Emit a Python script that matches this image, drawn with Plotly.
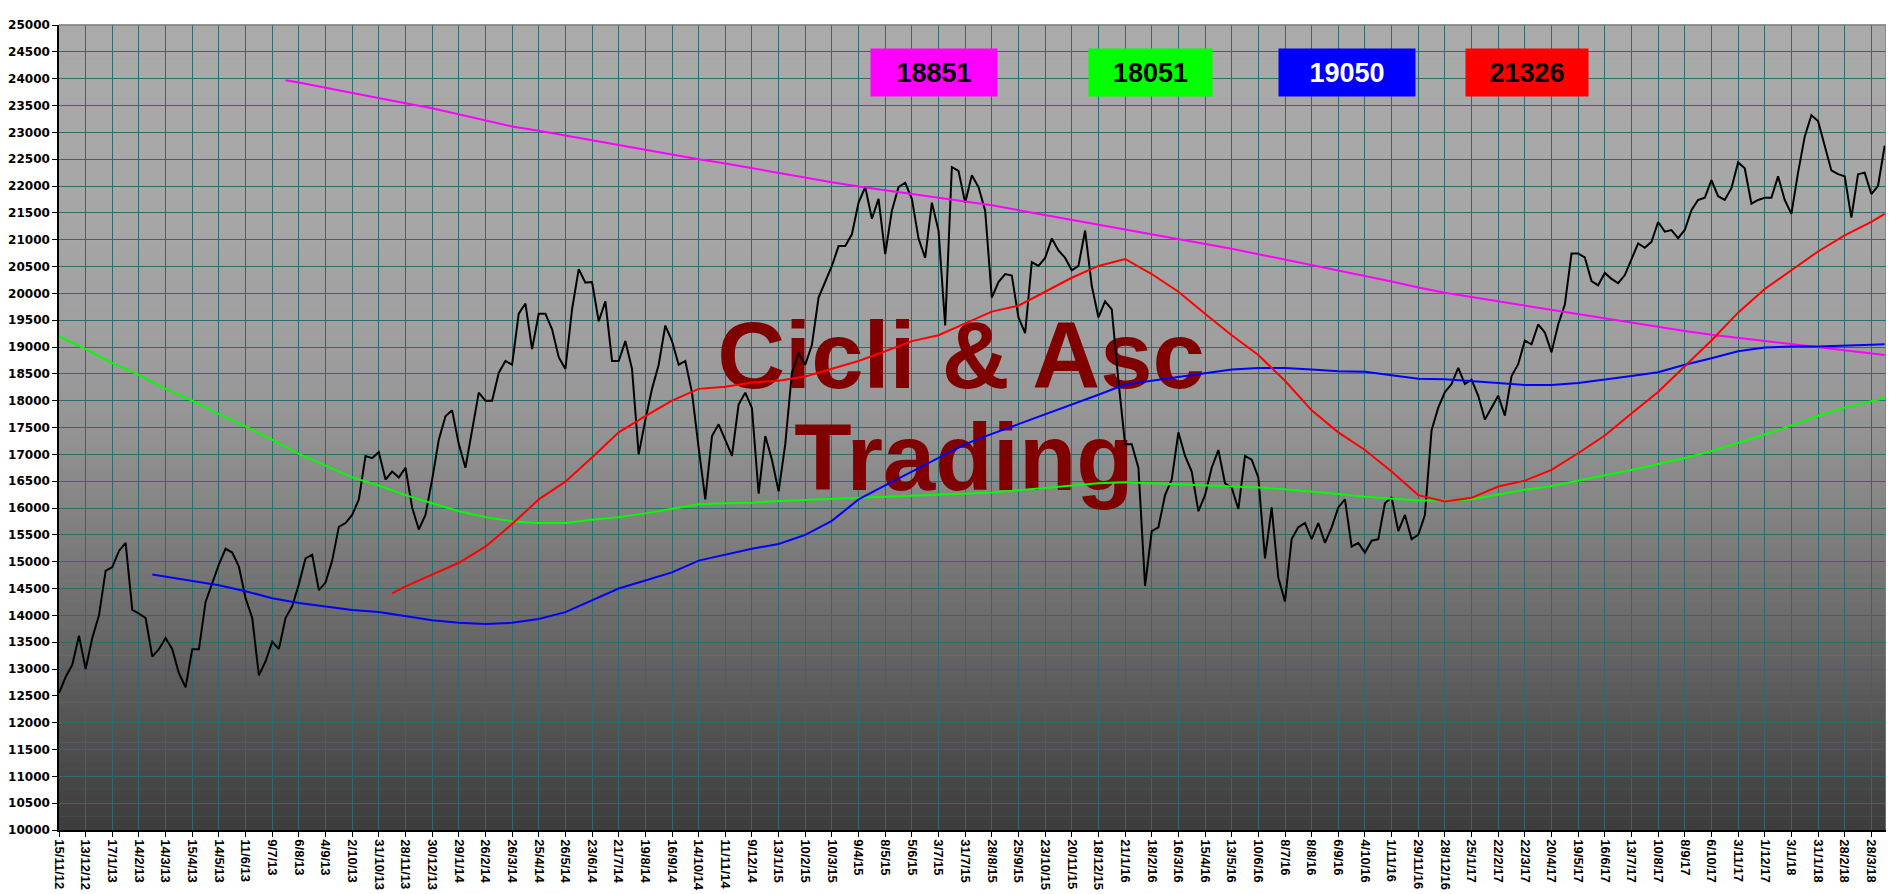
import plotly.graph_objects as go

# ---------------- data ----------------
tick_labels = [
    "15/11/12", "13/12/12", "17/1/13", "14/2/13", "14/3/13", "15/4/13", "14/5/13", "11/6/13", "9/7/13",
    "6/8/13", "4/9/13", "2/10/13", "31/10/13", "28/11/13", "30/12/13", "29/1/14", "26/2/14", "26/3/14",
    "25/4/14", "26/5/14", "23/6/14", "21/7/14", "19/8/14", "16/9/14", "14/10/14", "11/11/14", "9/12/14",
    "13/1/15", "10/2/15", "10/3/15", "9/4/15", "8/5/15", "5/6/15", "3/7/15", "31/7/15", "28/8/15",
    "25/9/15", "23/10/15", "20/11/15", "18/12/15", "21/1/16", "18/2/16", "16/3/16", "15/4/16", "13/5/16",
    "10/6/16", "8/7/16", "8/8/16", "6/9/16", "4/10/16", "1/11/16", "29/11/16", "28/12/16", "25/1/17",
    "22/2/17", "22/3/17", "20/4/17", "19/5/17", "16/6/17", "13/7/17", "10/8/17", "8/9/17", "6/10/17",
    "3/11/17", "1/12/17", "3/1/18", "31/1/18", "28/2/18", "28/3/18",
]
weeks_per_tick = 4

# weekly closes
price = [
    12550, 12850, 13080, 13620, 13000, 13580, 14000, 14830, 14900, 15200,
    15350, 14100, 14030, 13950, 13230, 13370, 13580, 13370, 12920, 12660,
    13370, 13370, 14250, 14610, 14950, 15240, 15170, 14910, 14320, 13950,
    12880, 13140, 13510, 13370, 13950, 14170, 14580, 15060, 15130, 14470,
    14610, 15020, 15650, 15720, 15870, 16160, 16970, 16930, 17040, 16530,
    16680, 16570, 16750, 16010, 15600, 15870, 16530, 17270, 17710, 17820,
    17190, 16750, 17480, 18150, 18000, 18000, 18520, 18740, 18670, 19620,
    19810, 18960, 19620, 19620, 19330, 18810, 18590, 19700, 20450, 20200,
    20210, 19480, 19850, 18740, 18740, 19110, 18590, 17000, 17640, 18220,
    18670, 19400, 19110, 18670, 18740, 18150, 17120, 16160, 17340, 17560,
    17270, 16970, 17930, 18150, 17860, 16270, 17340, 16900, 16310, 17190,
    18520, 18890, 18670, 19040, 19920, 20210, 20510, 20880, 20880, 21100,
    21690, 21980, 21390, 21760, 20730, 21540, 21980, 22060, 21760, 21020,
    20660, 21690, 21170, 19400, 22350, 22280, 21690, 22200, 21980, 21540,
    19920, 20210, 20360, 20330, 19550, 19260, 20580, 20510, 20660, 21020,
    20800, 20660, 20430, 20510, 21170, 20140, 19550, 19850, 19700, 18370,
    17190, 17190, 16750, 14550, 15570, 15640, 16240, 16530, 17410, 16970,
    16680, 15940, 16240, 16750, 17080, 16460, 16380, 15980, 16970, 16900,
    16570, 15060, 16010, 14700, 14260, 15420, 15640, 15720, 15420, 15720,
    15350, 15640, 16010, 16160, 15280, 15350, 15170, 15390, 15420, 16090,
    16200, 15570, 15870, 15420, 15500, 15870, 17450, 17870, 18160, 18310,
    18610, 18310, 18390, 18090, 17650, 17870, 18090, 17720, 18460, 18680,
    19120, 19050, 19420, 19270, 18900, 19420, 19790, 20740, 20740, 20670,
    20230, 20150, 20380, 20270, 20190, 20340, 20630, 20930, 20850, 20960,
    21330, 21150, 21180, 21030, 21180, 21550, 21740, 21780, 22110, 21810,
    21740, 21960, 22440, 22330, 21670, 21740, 21780, 21780, 22180, 21740,
    21480, 22250, 22920, 23320, 23210, 22730, 22290, 22220, 22180, 21410,
    22220, 22250, 21850, 22000, 22750,
]

# moving averages, one value per x tick (from their first tick), plus start / end points
magenta_start_week, magenta_start_val = 34, 23970
magenta_first_tick = 9
magenta_vals = [
    23930, 23830, 23730, 23640, 23540, 23450, 23340, 23220, 23110, 23030,
    22940, 22850, 22760, 22680, 22590, 22500, 22420, 22330, 22240, 22150,
    22070, 21990, 21920, 21850, 21790, 21720, 21640, 21550, 21460, 21370,
    21280, 21190, 21100, 21010, 20930, 20830, 20730, 20630, 20530, 20430,
    20330, 20220, 20110, 20010, 19930, 19850, 19770, 19690, 19610, 19530,
    19450, 19370, 19300, 19230, 19170, 19110, 19050, 18990, 18930, 18870,
]
magenta_end = 18851

green_first_tick = 0
green_vals = [
    19200, 18960, 18700, 18480, 18220, 18000, 17750, 17520, 17270, 17010,
    16790, 16570, 16420, 16240, 16090, 15940, 15830, 15750, 15720, 15720,
    15780, 15830, 15900, 15980, 16070, 16090, 16100, 16130, 16150, 16160,
    16180, 16200, 16220, 16250, 16270, 16290, 16330, 16370, 16420, 16460,
    16480, 16460, 16440, 16420, 16410, 16380, 16350, 16310, 16260, 16210,
    16180, 16140, 16140, 16160, 16250, 16340, 16410, 16510, 16600, 16710,
    16820, 16930, 17060, 17210, 17370, 17540, 17720, 17870, 18000,
]
green_end = 18051

blue_start_week, blue_start_val = 14, 14760
blue_first_tick = 4
blue_vals = [
    14720, 14650, 14560, 14450, 14320, 14230, 14160, 14100, 14060, 13990,
    13910, 13860, 13840, 13860, 13930, 14060, 14280, 14500, 14650, 14800,
    15020, 15130, 15240, 15330, 15500, 15760, 16160, 16420, 16680, 16940,
    17190, 17380, 17560, 17750, 17930, 18110, 18300, 18370, 18450, 18520,
    18580, 18610, 18610, 18580, 18550, 18540, 18480, 18410, 18400, 18370,
    18330, 18290, 18290, 18330, 18390, 18460, 18530, 18670, 18790, 18920,
    18990, 19010, 19010, 19020, 19040,
]
blue_end = 19050

red_start_week, red_start_val = 50, 14410
red_first_tick = 13
red_vals = [
    14540, 14760, 14980, 15280, 15700, 16160, 16490, 16940, 17410, 17710,
    18000, 18220, 18260, 18340, 18370, 18450, 18590, 18740, 18920, 19110,
    19220, 19440, 19660, 19770, 20030, 20290, 20510, 20640, 20360, 20030,
    19620, 19220, 18850, 18370, 17820, 17410, 17080, 16680, 16240, 16120,
    16190, 16400, 16510, 16710, 17020, 17350, 17760, 18160, 18640, 19120,
    19640, 20080, 20430, 20780, 21080, 21330,
]
red_end = 21480

box_labels = ["18851", "18051", "19050", "21326"]
watermark_lines = ["Cicli & Asc", "Trading"]

# ---------------- layout geometry ----------------
W, H = 1894, 894
PL, PT, PR, PB = 51, 17, 1878, 822
X_MAX = 274.2
Y_MIN, Y_MAX = 10000, 25000

def fx(px):
    return (px - PL) / (PR - PL)

def fy(py):
    return (PB - py) / (PB - PT)

last_week = len(price) - 1

def ma_series(first_tick, vals, end_val, start=None):
    xs, ys = [], []
    if start is not None:
        xs.append(start[0]); ys.append(start[1])
    for k, v in enumerate(vals):
        xs.append((first_tick + k) * weeks_per_tick); ys.append(v)
    xs.append(last_week); ys.append(end_val)
    return xs, ys

fig = go.Figure()

# watermark (drawn first so lines pass over it)
wm_pos = [(fx(953), fy(356)), (fx(956), fy(458))]
for line, (ax_, ay_) in zip(watermark_lines, wm_pos):
    fig.add_trace(go.Scatter(
        x=[ax_ * X_MAX], y=[Y_MIN + ay_ * (Y_MAX - Y_MIN)],
        mode="text", text=[line], textposition="middle center",
        textfont=dict(family="Liberation Sans, Arial", size=94, color="#800000", weight="bold"),
        hoverinfo="skip", showlegend=False, cliponaxis=False,
    ))

mx, my = ma_series(magenta_first_tick, magenta_vals, magenta_end, (magenta_start_week, magenta_start_val))
gx, gy = ma_series(green_first_tick, green_vals, green_end)
bx, by = ma_series(blue_first_tick, blue_vals, blue_end, (blue_start_week, blue_start_val))
rx, ry = ma_series(red_first_tick, red_vals, red_end, (red_start_week, red_start_val))

fig.add_trace(go.Scatter(x=list(range(len(price))), y=price, mode="lines",
                         line=dict(color="black", width=2), showlegend=False, hoverinfo="skip"))
for xs, ys, col in [(mx, my, "#ff00ff"), (gx, gy, "#00ff00"), (bx, by, "#0000ff"), (rx, ry, "#ff0000")]:
    fig.add_trace(go.Scatter(x=xs, y=ys, mode="lines", line=dict(color=col, width=2),
                             showlegend=False, hoverinfo="skip"))

# gradient background bands
stops = [(0.0, 170), (0.25, 166), (0.4, 158), (0.5, 148), (0.6, 132), (0.7, 114), (0.8, 96), (0.9, 78), (1.0, 60)]
def gray_at(t):
    for (t0, g0), (t1, g1) in zip(stops[:-1], stops[1:]):
        if t0 <= t <= t1:
            return g0 + (g1 - g0) * (t - t0) / (t1 - t0)
    return stops[-1][1]

shapes = []
NB = 120
for i in range(NB):
    t = (i + 0.5) / NB  # from top
    g = int(round(gray_at(t)))
    shapes.append(dict(type="rect", xref="paper", yref="paper", x0=0, x1=1,
                       y0=1 - (i + 1) / NB, y1=1 - i / NB + 0.0005,
                       fillcolor=f"rgb({g},{g},{g})", line=dict(width=0), layer="below"))
# gray frame top/right
shapes.append(dict(type="line", xref="paper", yref="paper", x0=0, x1=1, y0=1, y1=1,
                   line=dict(color="#7f7f7f", width=1.5), layer="above"))
shapes.append(dict(type="line", xref="paper", yref="paper", x0=1, x1=1, y0=0, y1=1,
                   line=dict(color="#7f7f7f", width=1.5), layer="above"))

# coloured value boxes
box_geom = [(863, 989, "#ff00ff", "black"), (1081, 1204, "#00ff00", "black"),
            (1271, 1407, "#0000ff", "white"), (1458, 1580, "#ff0000", "black")]
annotations = []
for lab, (x0, x1, bg, fc) in zip(box_labels, box_geom):
    annotations.append(dict(
        xref="paper", yref="paper", x=fx((x0 + x1) / 2), y=fy(64.5),
        xanchor="center", yanchor="middle", showarrow=False,
        text=lab, width=x1 - x0, height=47, bgcolor=bg, borderpad=0,
        font=dict(family="Liberation Sans, Arial", size=27, color=fc, weight="bold"),
    ))

fig.update_layout(
    width=W, height=H,
    margin=dict(l=PL, r=W - PR, t=PT, b=H - PB, pad=0),
    paper_bgcolor="white", plot_bgcolor="rgb(150,150,150)",
    shapes=shapes, annotations=annotations, hovermode=False,
    showlegend=False,
)
fig.update_xaxes(
    range=[0, X_MAX], tickmode="array",
    tickvals=[k * weeks_per_tick for k in range(len(tick_labels))], ticktext=tick_labels,
    tickangle=90, ticks="outside", ticklen=5, tickcolor="black",
    showgrid=True, gridcolor="#2f6b6b", gridwidth=1,
    showline=True, linecolor="black", linewidth=1.5, zeroline=False,
    tickfont=dict(family="Liberation Sans, Arial", size=13, color="black", weight="bold"),
    automargin=False, fixedrange=True,
)
fig.update_yaxes(
    range=[Y_MIN, Y_MAX], dtick=500, tick0=10000, tickformat="d",
    ticks="outside", ticklen=5, tickcolor="black",
    showgrid=True, gridcolor="#2f6b6b", gridwidth=1,
    showline=True, linecolor="black", linewidth=1.5, zeroline=False,
    tickfont=dict(family="DejaVu Sans", size=12, color="black", weight="bold"),
    automargin=False, fixedrange=True,
)

fig.write_html("out.html")
